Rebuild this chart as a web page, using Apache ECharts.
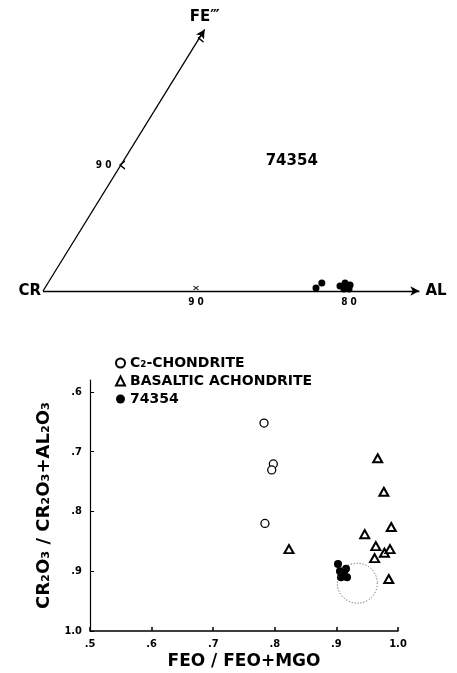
<!DOCTYPE html>
<html>
<head>
<meta charset="utf-8">
<script src="https://cdn.jsdelivr.net/npm/echarts@6/dist/echarts.min.js"></script>
<style>
html,body{margin:0;padding:0;background:#fff;}
#c{width:457px;height:673px;}
</style>
</head>
<body>
<div id="c"></div>
<script>
// ---------- DATA ----------
// Lower plot: FeO/(FeO+MgO) vs Cr2O3/(Cr2O3+Al2O3)
const c2Chondrite = [[0.7825, 0.652], [0.7976, 0.7205], [0.795, 0.7305], [0.784, 0.820]];
const basalticAchondrite = [
  [0.967, 0.711], [0.977, 0.767], [0.989, 0.826], [0.946, 0.838], [0.823, 0.863],
  [0.964, 0.858], [0.978, 0.869], [0.987, 0.863], [0.962, 0.878], [0.985, 0.913]
];
const sample74354 = [
  [0.9026, 0.888], [0.9058, 0.900], [0.9156, 0.896], [0.9075, 0.910], [0.9172, 0.910], [0.9123, 0.903]
];
const dottedField = [[0.934, 0.920]];
const xTickValues = [0.5, 0.6, 0.7, 0.8, 0.9, 1.0];
const xTickLabels = ['.5', '.6', '.7', '.8', '.9', '1.0'];
const yTickValues = [0.6, 0.7, 0.8, 0.9, 1.0];
const yTickLabels = ['.6', '.7', '.8', '.9', '1.0'];

// Upper plot: ternary corner (Al %, Fe''' %), Cr = remainder
const ternary74354 = [[17.72, 0.24], [17.9, 0.63], [19.21, 0.39], [19.42, 0.63], [19.83, 0.47], [19.59, 0.16], [19.92, 0.16]];
const alTicks = [10, 20];          // Cr = 90, 80 along Cr-Al edge
const alTickLabels = ['9 0', '8 0'];
const feTicks = [10, 20];          // Cr = 90, 80 along Cr-Fe edge
const feTickLabels = ['9 0', ''];
const alAxisEnd = 24.6;
const feAxisEnd = 20.6;
const sampleLabelPos = [11.0, 10.25];

// ---------- GEOMETRY (style) ----------
const FE_DX = 0.513, FE_DY = 0.830;
function tern(al, fe) { return [al + fe * FE_DX, fe * FE_DY]; }

const boldWide = 'DejaVu Sans';
const narrow = '"Liberation Sans Narrow", "DejaVu Sans Condensed", "Liberation Sans", sans-serif';

const chart = echarts.init(document.getElementById('c'), null, {renderer: 'canvas'});

const option = {
  backgroundColor: '#fff',
  animation: false,
  grid: [
    {left: 90, right: 59, top: 380, bottom: 42},
    {left: 43, right: 31.5, top: 15.6, bottom: 382}
  ],
  legend: {
    data: [
      {name: 'C₂-CHONDRITE', icon: 'circle'},
      {name: 'BASALTIC ACHONDRITE', icon: 'triangle'},
      {name: '74354', icon: 'circle'}
    ],
    orient: 'vertical',
    left: 110,
    top: 351,
    itemWidth: 9,
    itemHeight: 9,
    itemGap: 4,
    textStyle: {fontFamily: boldWide, fontWeight: 'bold', fontSize: 14, color: '#000'},
    selectedMode: false
  },
  xAxis: [
    {
      gridIndex: 0, type: 'value', min: 0.5, max: 1.0,
      name: 'FEO / FEO+MGO', nameLocation: 'middle', nameGap: 22,
      nameTextStyle: {fontFamily: boldWide, fontWeight: 'bold', fontSize: 17, color: '#000'},
      axisLine: {show: true, lineStyle: {color: '#000', width: 1.5}},
      axisTick: {show: true, inside: true, length: 4, customValues: xTickValues, lineStyle: {color: '#000', width: 1.5}},
      axisLabel: {
        customValues: xTickValues, margin: 8,
        fontFamily: narrow, fontWeight: 'bold', fontSize: 11, color: '#000',
        formatter: v => xTickLabels[xTickValues.findIndex(t => Math.abs(t - v) < 1e-6)]
      },
      splitLine: {show: false}
    },
    {gridIndex: 1, type: 'value', min: 0, max: 25, show: false, splitLine: {show: false}}
  ],
  yAxis: [
    {
      gridIndex: 0, type: 'value', min: 0.58, max: 1.0, inverse: true,
      name: 'CR₂O₃ / CR₂O₃+AL₂O₃', nameLocation: 'middle', nameGap: 24, nameRotate: 90,
      nameTextStyle: {fontFamily: boldWide, fontWeight: 'bold', fontSize: 18, color: '#000'},
      axisLine: {show: true, lineStyle: {color: '#000', width: 1.2}},
      axisTick: {show: true, inside: true, length: 4, customValues: yTickValues, lineStyle: {color: '#000', width: 1}},
      axisLabel: {
        customValues: yTickValues, margin: 8,
        fontFamily: narrow, fontWeight: 'bold', fontSize: 11, color: '#000',
        formatter: v => yTickLabels[yTickValues.findIndex(t => Math.abs(t - v) < 1e-6)]
      },
      splitLine: {show: false}
    },
    {gridIndex: 1, type: 'value', min: 0, max: 18, show: false, splitLine: {show: false}}
  ],
  series: [
    {
      name: 'C₂-CHONDRITE', type: 'scatter', xAxisIndex: 0, yAxisIndex: 0,
      data: c2Chondrite, symbol: 'circle', symbolSize: 8,
      itemStyle: {color: '#fff', borderColor: '#000', borderWidth: 1.3, opacity: 1}
    },
    {
      name: 'BASALTIC ACHONDRITE', type: 'scatter', xAxisIndex: 0, yAxisIndex: 0,
      data: basalticAchondrite, symbol: 'triangle', symbolSize: [9, 8],
      itemStyle: {color: '#fff', borderColor: '#000', borderWidth: 2, opacity: 1}
    },
    {
      name: '74354', type: 'scatter', xAxisIndex: 0, yAxisIndex: 0,
      data: sample74354, symbol: 'circle', symbolSize: 8,
      itemStyle: {color: '#000', opacity: 1}
    },
    {
      name: 'field', type: 'scatter', xAxisIndex: 0, yAxisIndex: 0,
      data: dottedField, symbol: 'circle', symbolSize: 40, silent: true,
      itemStyle: {color: 'rgba(0,0,0,0)', borderColor: '#444', borderWidth: 1, borderType: [1, 2], opacity: 1}
    },
    // ---------- upper ternary ----------
    {
      name: 'ternaryAxes', type: 'line', xAxisIndex: 1, yAxisIndex: 1,
      data: [], silent: true,
      markLine: {
        silent: true, symbol: ['none', 'arrow'], symbolSize: [7, 9],
        lineStyle: {color: '#000', width: 1.3, type: 'solid'},
        label: {show: false},
        data: [
          [{coord: tern(0, 0)}, {coord: tern(alAxisEnd, 0)}],
          [{coord: tern(0, 0)}, {coord: tern(0, feAxisEnd)}]
        ]
      }
    },
    {
      name: 'alTicks', type: 'scatter', xAxisIndex: 1, yAxisIndex: 1,
      data: alTicks.map((a, i) => ({value: tern(a, 0), label: {formatter: alTickLabels[i]}})),
      symbol: 'path://M0,0 L6,6 M6,0 L0,6', symbolSize: [5, 4], symbolOffset: [0, -3],
      itemStyle: {color: 'rgba(0,0,0,0)', borderColor: '#000', borderWidth: 1, opacity: 1},
      label: {show: true, position: 'bottom', distance: 7, fontFamily: narrow, fontWeight: 'bold', fontSize: 10, color: '#000'}
    },
    {
      name: 'feTicks', type: 'scatter', xAxisIndex: 1, yAxisIndex: 1,
      data: feTicks.map((f, i) => ({value: tern(0, f), label: {formatter: feTickLabels[i]}})),
      symbol: 'path://M6,0 L0,4 L6,8', symbolSize: [5, 8], symbolOffset: [1, 1],
      itemStyle: {color: 'rgba(0,0,0,0)', borderColor: '#000', borderWidth: 1.2, opacity: 1},
      label: {show: true, position: 'left', distance: 8, fontFamily: narrow, fontWeight: 'bold', fontSize: 10, color: '#000'}
    },
    {
      name: 'ternary74354', type: 'scatter', xAxisIndex: 1, yAxisIndex: 1,
      data: ternary74354.map(p => tern(p[0], p[1])),
      symbol: 'circle', symbolSize: 7,
      itemStyle: {color: '#000', opacity: 1}
    },
    {
      name: 'vertexLabels', type: 'scatter', xAxisIndex: 1, yAxisIndex: 1,
      symbolSize: 0, silent: true,
      itemStyle: {color: '#000', opacity: 1},
      data: [
        {value: tern(0, 0), label: {formatter: 'CR', position: 'left', distance: 2}},
        {value: tern(alAxisEnd, 0), label: {formatter: 'AL', position: 'right', distance: 6}},
        {value: tern(0, feAxisEnd), label: {formatter: 'FE‴', position: 'top', distance: 5}},
        {value: tern(sampleLabelPos[0], sampleLabelPos[1]), label: {formatter: '74354', position: 'inside'}}
      ],
      label: {show: true, fontFamily: boldWide, fontWeight: 'bold', fontSize: 15, color: '#000', opacity: 1}
    }
  ]
};
chart.setOption(option);
</script>
</body>
</html>
